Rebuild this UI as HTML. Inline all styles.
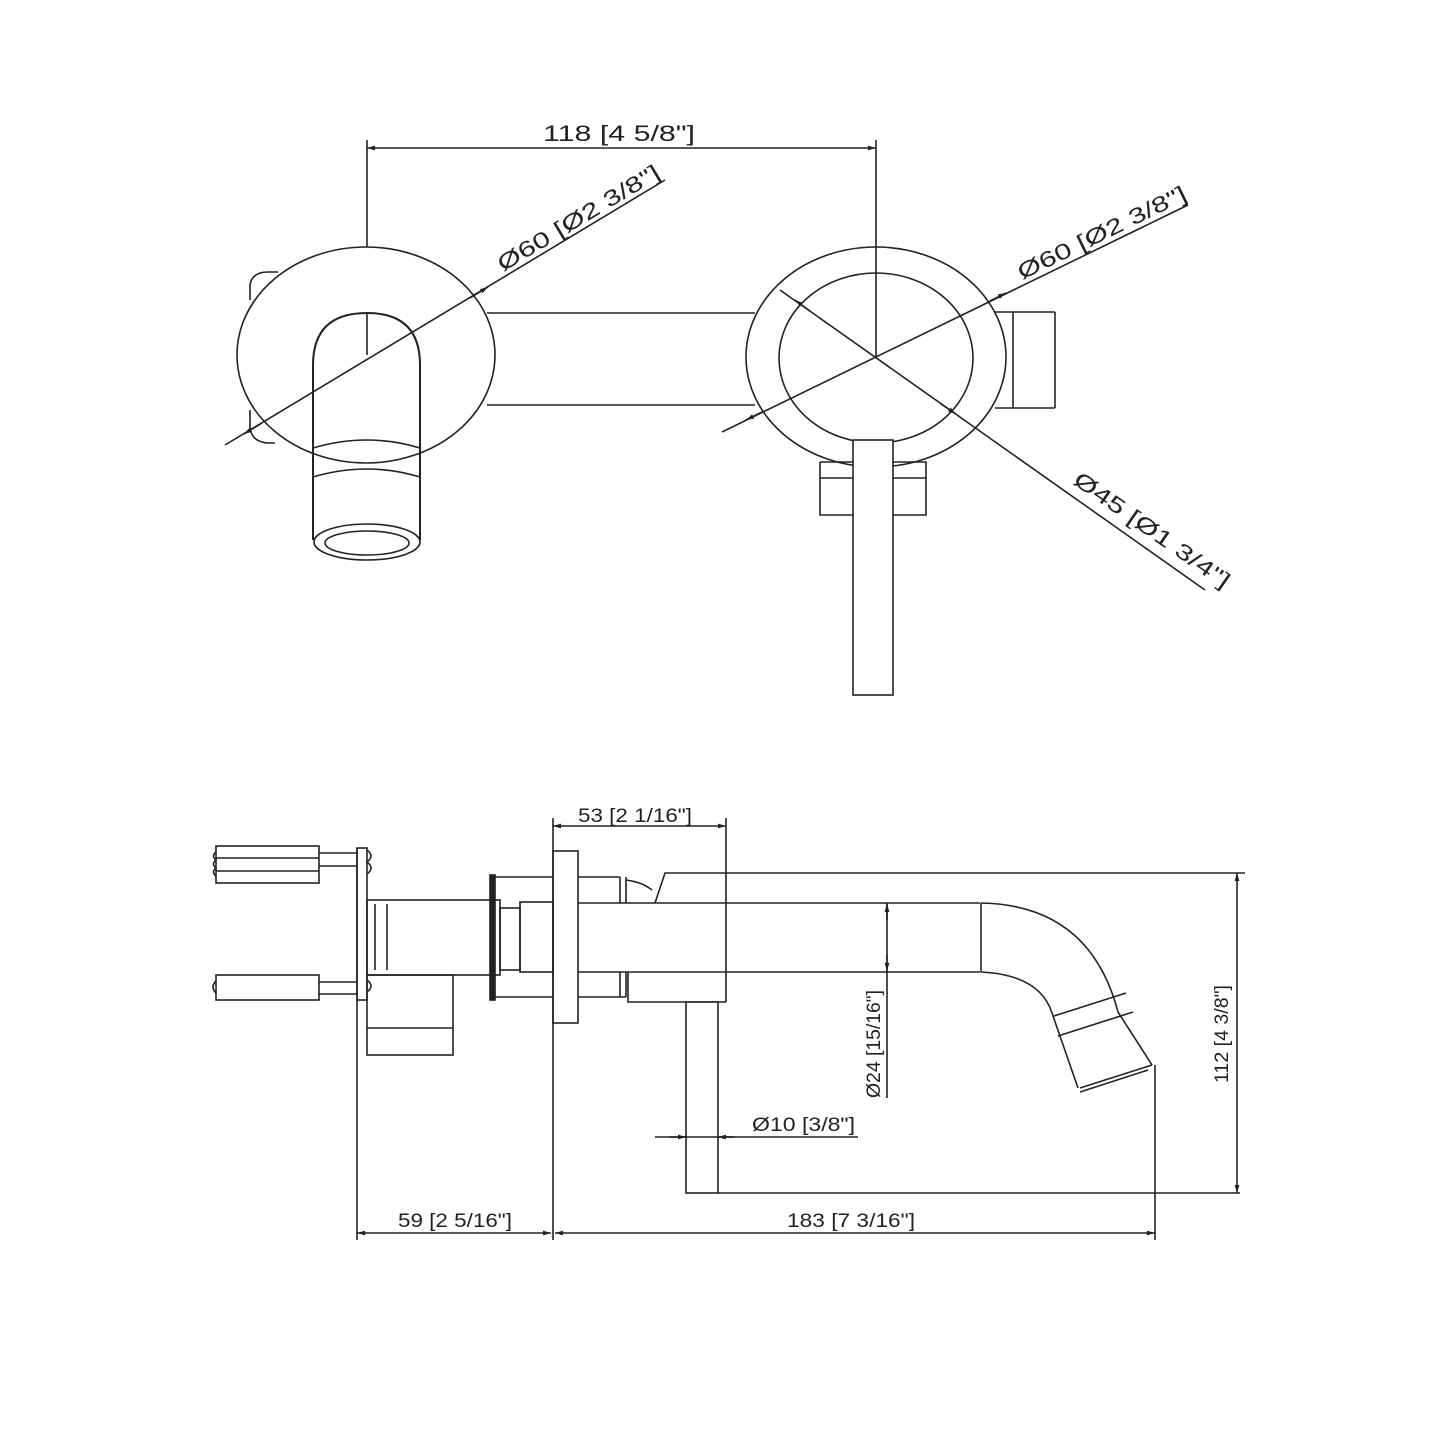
<!DOCTYPE html>
<html><head><meta charset="utf-8"><style>html,body{margin:0;padding:0;background:#fff}svg{display:block}</style></head>
<body>
<svg width="1445" height="1445" viewBox="0 0 1445 1445" xmlns="http://www.w3.org/2000/svg" font-family="Liberation Sans, sans-serif" font-size="19" fill="none" stroke="#222" stroke-width="1.6">
<defs>
<marker id="a" viewBox="0 0 10 10" refX="10" refY="5" markerWidth="14" markerHeight="8" orient="auto-start-reverse" markerUnits="userSpaceOnUse"><path d="M0,2 L10,5 L0,8 z" fill="#222" stroke="none"/></marker>
</defs>
<!-- TOP VIEW -->
<line x1="367" y1="148" x2="876" y2="148" marker-start="url(#a)" marker-end="url(#a)"/>
<line x1="367" y1="140" x2="367" y2="357"/>
<line x1="876" y1="140" x2="876" y2="357"/>
<text x="543" y="141" textLength="152" lengthAdjust="spacingAndGlyphs" font-size="22" fill="#222" stroke="none">118 [4 5/8"]</text>
<!-- left escutcheon tabs -->
<path d="M250,300 L250,285 Q252,272 268,272 L278,272" />
<path d="M250,410 L250,428 Q252,442 268,443 L275,443" />
<ellipse cx="366" cy="355" rx="129" ry="108" fill="#fff"/>
<line x1="487" y1="313" x2="755" y2="313"/>
<line x1="487" y1="405" x2="755" y2="405"/>
<!-- spout top -->
<path d="M313,365 L313,540 M420,365 L420,540 M313,365 Q313,313 367,313 Q420,313 420,365" stroke-width="2"/>
<path d="M313,448 Q367,432 420,448 M313,477 Q367,461 420,477"/>
<ellipse cx="367" cy="542" rx="53" ry="18"/>
<ellipse cx="367" cy="543" rx="42" ry="12"/>
<line x1="367" y1="313" x2="367" y2="355"/>
<!-- right -->
<ellipse cx="876" cy="357" rx="130" ry="110" fill="#fff"/>
<ellipse cx="876" cy="358" rx="97" ry="85"/>
<line x1="995" y1="312" x2="1055" y2="312"/><line x1="995" y1="408" x2="1055" y2="408"/>
<line x1="1013" y1="312" x2="1013" y2="408"/><line x1="1055" y1="312" x2="1055" y2="408"/>
<line x1="876" y1="247" x2="876" y2="357"/>
<rect x="853" y="440" width="40" height="255" fill="#fff"/>
<path d="M820,462 L853,462 M820,462 L820,515 L853,515 M820,478 L853,478 M893,462 L926,462 L926,515 L893,515 M893,478 L926,478"/>
<!-- diag dims -->
<line x1="225" y1="445" x2="665" y2="180" />
<path d="M262,423 L244,434" marker-end="url(#a)"/>
<path d="M470,298 L488,287" marker-end="url(#a)"/>
<text transform="translate(503,272) rotate(-31)" textLength="185" lengthAdjust="spacingAndGlyphs" font-size="22" fill="#222" stroke="none">Ø60 [Ø2 3/8"]</text>
<line x1="722" y1="432" x2="1188" y2="205"/>
<path d="M762,412 L746,420" marker-end="url(#a)"/>
<path d="M990,301 L1006,293" marker-end="url(#a)"/>
<text transform="translate(1022,280) rotate(-26)" textLength="185" lengthAdjust="spacingAndGlyphs" font-size="22" fill="#222" stroke="none">Ø60 [Ø2 3/8"]</text>
<line x1="780" y1="290" x2="1205" y2="590"/>
<path d="M810,311 L795,300" marker-end="url(#a)"/>
<path d="M941,404 L956,414" marker-end="url(#a)"/>
<text transform="translate(1072,483) rotate(35)" textLength="185" lengthAdjust="spacingAndGlyphs" font-size="22" fill="#222" stroke="none">Ø45 [Ø1 3/4"]</text>

<!-- BOTTOM VIEW -->
<line x1="553" y1="826" x2="726" y2="826" marker-start="url(#a)" marker-end="url(#a)"/>
<text x="578" y="822" textLength="114" lengthAdjust="spacingAndGlyphs" fill="#222" stroke="none">53 [2 1/16"]</text>
<line x1="553" y1="818" x2="553" y2="1240"/>
<line x1="726" y1="818" x2="726" y2="1002"/>
<!-- bolts -->
<rect x="216" y="846" width="103" height="37"/>
<line x1="216" y1="858" x2="319" y2="858"/><line x1="216" y1="871" x2="319" y2="871"/>
<path d="M216,852 q-5,4 0,8 q-5,4 0,8 q-5,4 0,8"/>
<line x1="319" y1="853" x2="357" y2="853"/><line x1="319" y1="866" x2="357" y2="866"/>
<rect x="216" y="975" width="103" height="25"/>
<path d="M216,981 q-6,6 0,12"/>
<line x1="319" y1="982" x2="357" y2="982"/><line x1="319" y1="994" x2="357" y2="994"/>
<!-- plate -->
<line x1="357" y1="848" x2="357" y2="1240"/>
<rect x="357" y="848" width="10" height="152"/>
<path d="M367,850 q8,6 0,12 q8,6 0,12 M367,980 q8,6 0,12"/>
<rect x="367" y="900" width="133" height="75"/>
<line x1="375" y1="904" x2="375" y2="970"/><line x1="387" y1="904" x2="387" y2="970"/>
<rect x="367" y="975" width="86" height="80"/>
<line x1="367" y1="1028" x2="453" y2="1028"/>
<rect x="490" y="875" width="5" height="125" fill="#222"/>
<line x1="495" y1="877" x2="553" y2="877"/><line x1="495" y1="997" x2="553" y2="997"/>
<rect x="500" y="908" width="20" height="62"/>
<rect x="520" y="902" width="33" height="70"/>
<rect x="553" y="851" width="25" height="172"/>
<!-- body -->
<line x1="578" y1="877" x2="620" y2="877"/>
<path d="M620,877 L620,903 M626,877 L626,903 M620,972 L620,997 M626,972 L626,997"/>
<path d="M626,880 Q642,882 652,890"/>
<path d="M655,903 L665,873 L1245,873"/>
<line x1="578" y1="903" x2="980" y2="903"/>
<line x1="578" y1="972" x2="980" y2="972"/>
<line x1="578" y1="997" x2="626" y2="997"/>
<path d="M628,972 L628,1002 L726,1002"/>
<rect x="686" y="1002" width="32" height="191" fill="#fff"/>
<line x1="718" y1="1193" x2="1240" y2="1193"/>
<!-- spout -->
<line x1="981" y1="903" x2="981" y2="972"/>
<path d="M981,903 Q1090,905 1118,1012 L1152,1065"/>
<path d="M981,972 Q1040,975 1052,1013 L1078,1088"/>
<path d="M1152,1065 L1080,1088 M1148,1070 L1080,1092"/>
<path d="M1054,1016 L1126,993 M1058,1036 L1133,1012"/>
<line x1="1155" y1="1065" x2="1155" y2="1240"/>
<!-- Ø24 -->
<line x1="887" y1="903" x2="887" y2="1098" />
<path d="M887,920 L887,904" marker-end="url(#a)"/>
<path d="M887,955 L887,971" marker-end="url(#a)"/>
<text transform="translate(880,1098) rotate(-90)" textLength="108" lengthAdjust="spacingAndGlyphs" fill="#222" stroke="none">Ø24 [15/16"]</text>
<!-- Ø10 -->
<line x1="655" y1="1137" x2="858" y2="1137"/>
<path d="M670,1137 L686,1137" marker-end="url(#a)"/>
<path d="M734,1137 L718,1137" marker-end="url(#a)"/>
<text x="752" y="1131" textLength="103" lengthAdjust="spacingAndGlyphs" fill="#222" stroke="none">Ø10 [3/8"]</text>
<!-- 112 -->
<line x1="1237" y1="873" x2="1237" y2="1193" marker-start="url(#a)" marker-end="url(#a)"/>
<text transform="translate(1228,1083) rotate(-90)" textLength="98" lengthAdjust="spacingAndGlyphs" fill="#222" stroke="none">112 [4 3/8"]</text>
<!-- 59 / 183 -->
<line x1="357" y1="1233" x2="551" y2="1233" marker-start="url(#a)" marker-end="url(#a)"/>
<text x="398" y="1227" textLength="114" lengthAdjust="spacingAndGlyphs" fill="#222" stroke="none">59 [2 5/16"]</text>
<line x1="555" y1="1233" x2="1155" y2="1233" marker-start="url(#a)" marker-end="url(#a)"/>
<text x="787" y="1227" textLength="128" lengthAdjust="spacingAndGlyphs" fill="#222" stroke="none">183 [7 3/16"]</text>
</svg>
</body></html>
